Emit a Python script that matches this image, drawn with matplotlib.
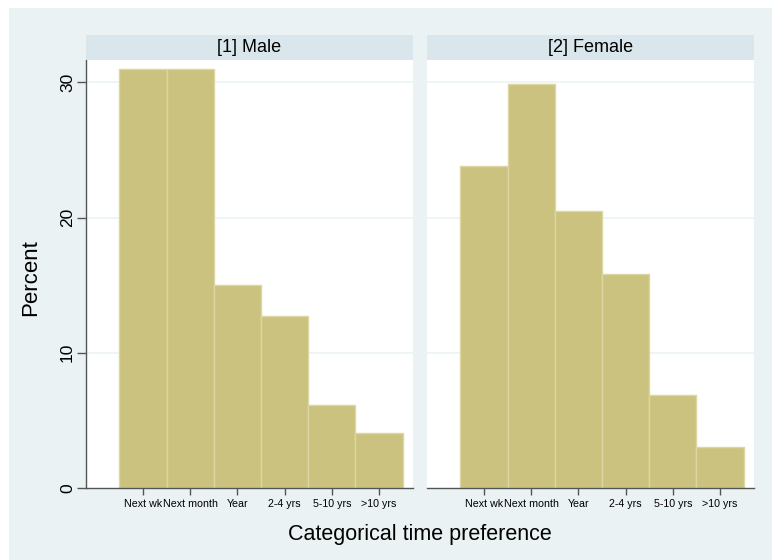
import matplotlib
matplotlib.use("Agg")
import matplotlib.pyplot as plt
from matplotlib.patches import Rectangle

plt.rcParams['font.family'] = ['Liberation Sans', 'DejaVu Sans']

categories = ["Next wk", "Next month", "Year", "2-4 yrs", "5-10 yrs", ">10 yrs"]
positions = [1, 2, 3, 4, 5, 6]
male = [30.95, 31.0, 15.0, 12.7, 6.15, 4.07]
female = [23.8, 29.9, 20.5, 15.85, 6.85, 3.0]
panels = [("[1] Male", male), ("[2] Female", female)]
yticks = [0, 10, 20, 30]

W, H = 772, 560
fig = plt.figure(figsize=(W / 100, H / 100), dpi=100)
fig.patch.set_facecolor("white")
fig.add_artist(Rectangle((9 / W, 0), 1 - 9 / W, 1 - 8 / H, transform=fig.transFigure,
                         facecolor="#eaf2f3", edgecolor="none", zorder=0))

bar_col = "#cac27e"
edge_col = "#dcd7a2"
axis_col = "#555555"

lefts = [86, 427]
pw = 327
top_px, bot_px = 60, 488
for i, (title, vals) in enumerate(panels):
    x0 = lefts[i]
    ax = fig.add_axes([x0 / W, (H - bot_px) / H, pw / W, (bot_px - top_px) / H])
    ax.set_facecolor("white")
    for g in yticks[1:]:
        ax.axhline(g, color="#eaf2f3", lw=1.1, zorder=0)
    ax.bar(positions, vals, width=1.0, color=bar_col, edgecolor=edge_col,
           linewidth=1.0, zorder=2)
    ax.set_xlim(-0.205, 6.72)
    ax.set_ylim(0, 31.65)
    ax.set_xticks(positions)
    ax.set_xticklabels(categories, fontsize=7.7, color="#000000")
    ax.tick_params(axis="x", direction="out", length=5, width=1, color=axis_col, pad=3)
    for s in ["top", "right"]:
        ax.spines[s].set_visible(False)
    ax.spines["bottom"].set_color(axis_col)
    ax.spines["bottom"].set_linewidth(1)
    if i == 0:
        ax.spines["left"].set_color(axis_col)
        ax.spines["left"].set_linewidth(1)
        ax.set_yticks(yticks)
        ax.set_yticklabels([str(t) for t in yticks], fontsize=12.5, rotation=90,
                           va="center", color="#000000")
        ax.tick_params(axis="y", direction="out", length=6.5, width=1, color=axis_col, pad=1.5)
    else:
        ax.spines["left"].set_visible(False)
        ax.set_yticks([])
    # strip
    sax = fig.add_axes([x0 / W, (H - 59.5) / H, pw / W, 25 / H])
    sax.set_facecolor("#d9e6eb")
    sax.set_xticks([])
    sax.set_yticks([])
    for s in sax.spines.values():
        s.set_visible(False)
    sax.text(0.5, 0.47, title, ha="center", va="center", fontsize=13,
             color="#000000", transform=sax.transAxes)

fig.text(420 / W, 1 - 540 / H, "Categorical time preference", ha="center",
         va="baseline", fontsize=15.5, color="#000000")
fig.text(30.5 / W, 1 - 277.5 / H, "Percent", ha="center", va="center",
         rotation=90, fontsize=16, color="#000000")

fig.savefig("out.png", dpi=100, facecolor=fig.get_facecolor())
